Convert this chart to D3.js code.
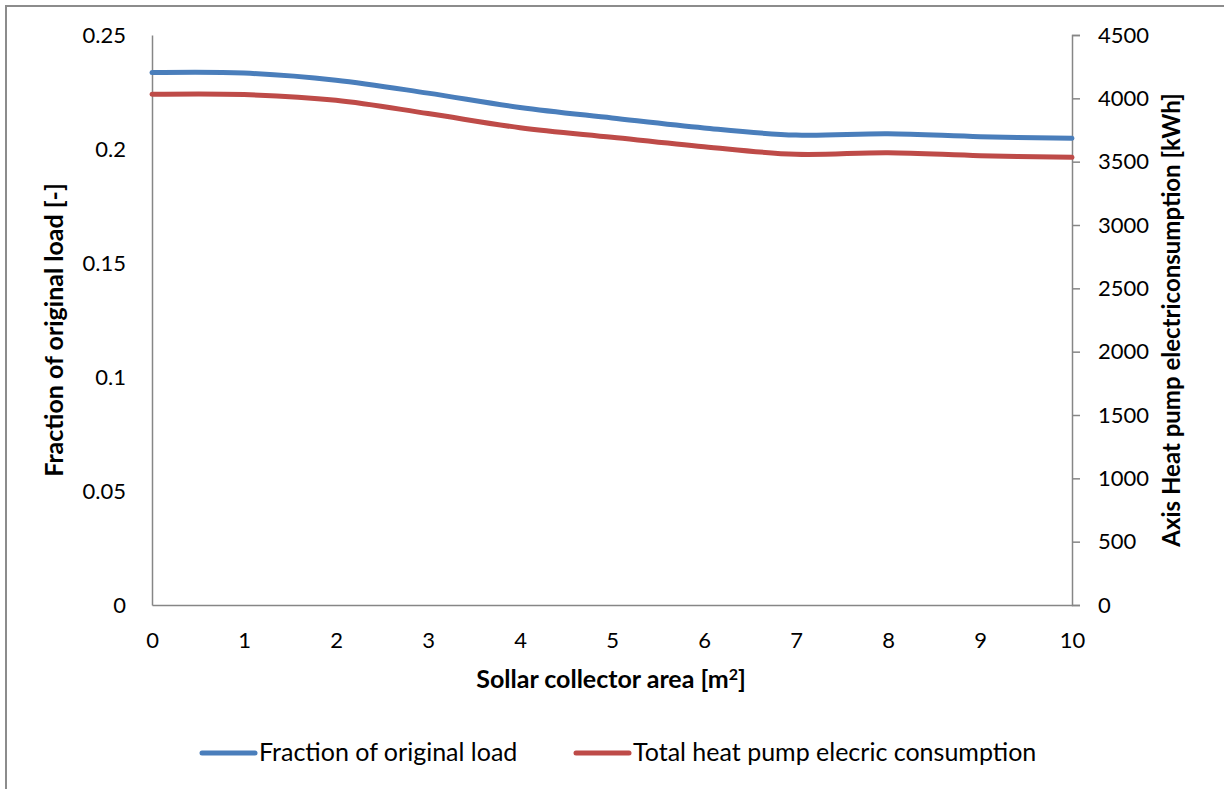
<!DOCTYPE html>
<html>
<head>
<meta charset="utf-8">
<script src="https://cdn.jsdelivr.net/npm/d3@7"></script>
<style>
  body { margin: 0; background: #fff; }
  svg { font-family: Lato, "Open Sans", sans-serif; }
</style>
</head>
<body>
<svg width="1224" height="789"></svg>
<script>
// collector area [m2]
var areas = [0, 1, 2, 3, 4, 5, 6, 7, 8, 9, 10];
// fraction of original load (left axis)
var fraction = [0.2335, 0.2333, 0.2302, 0.2245, 0.2182, 0.2136, 0.2092, 0.2061, 0.2067, 0.2054, 0.2047];
// heat pump electric consumption kWh (right axis)
var consumption = [4032, 4030, 3985, 3880, 3768, 3692, 3618, 3558, 3571, 3547, 3534];

var leftTicks = [0, 0.05, 0.1, 0.15, 0.2, 0.25];
var rightTicks = [0, 500, 1000, 1500, 2000, 2500, 3000, 3500, 4000, 4500];
var seriesNames = ["Fraction of original load", "Total heat pump elecric consumption"];
var colors = ["#4a7ebb", "#be4b48"];

var svg = d3.select("svg");
var axisColor = "#868686";

// chart frame (cropped at right and bottom)
svg.append("rect")
    .attr("x", 6).attr("y", 6)
    .attr("width", 1400).attr("height", 1000)
    .attr("fill", "none")
    .attr("stroke", "#8c8c8c")
    .attr("stroke-width", 2);

var x = d3.scaleLinear().domain([0, 10]).range([152, 1072]);
var yLeft = d3.scaleLinear().domain([0, 0.25]).range([605, 35]);
var yRight = d3.scaleLinear().domain([0, 4500]).range([605, 35]);

// left axis
var gl = svg.append("g")
    .attr("transform", "translate(152,0)")
    .call(d3.axisLeft(yLeft).tickValues(leftTicks).tickFormat(function (d) { return String(d); })
        .tickSize(0).tickPadding(26));

// right axis
var gr = svg.append("g")
    .attr("transform", "translate(1072,0)")
    .call(d3.axisRight(yRight).tickValues(rightTicks).tickFormat(function (d) { return String(d); })
        .tickSizeInner(8).tickSizeOuter(8).tickPadding(18));

// bottom axis
var gb = svg.append("g")
    .attr("transform", "translate(0,605)")
    .call(d3.axisBottom(x).tickValues(areas).tickFormat(function (d) { return String(d); })
        .tickSize(0).tickPadding(27));

[gl, gr, gb].forEach(function (g) {
    g.selectAll("path.domain").attr("stroke", axisColor).attr("stroke-width", 1.5);
    g.selectAll(".tick line").attr("stroke", axisColor).attr("stroke-width", 1.5);
    g.selectAll(".tick text").attr("fill", "#000").style("font-size", "22px").style("font-family", "Lato");
});

// lines
var lineL = d3.line()
    .x(function (d, i) { return x(areas[i]); })
    .y(function (d) { return yLeft(d); })
    .curve(d3.curveCardinal.tension(0));
var lineR = d3.line()
    .x(function (d, i) { return x(areas[i]); })
    .y(function (d) { return yRight(d); })
    .curve(d3.curveCardinal.tension(0));

svg.append("path")
    .datum(fraction)
    .attr("d", lineL)
    .attr("fill", "none")
    .attr("stroke", colors[0])
    .attr("stroke-width", 5)
    .attr("stroke-linecap", "round");

svg.append("path")
    .datum(consumption)
    .attr("d", lineR)
    .attr("fill", "none")
    .attr("stroke", colors[1])
    .attr("stroke-width", 5)
    .attr("stroke-linecap", "round");

// axis titles
var xt = svg.append("text")
    .attr("x", 611).attr("y", 688)
    .attr("text-anchor", "middle")
    .style("font-size", "25px").style("font-weight", "bold");
xt.append("tspan").text("Sollar collector area [m");
xt.append("tspan").attr("dy", -8).style("font-size", "16px").text("2");
xt.append("tspan").attr("dy", 8).text("]");

svg.append("text")
    .attr("transform", "translate(63,330) rotate(-90)")
    .attr("text-anchor", "middle")
    .style("font-size", "25px").style("font-weight", "bold")
    .text("Fraction of original load [-]");

svg.append("text")
    .attr("transform", "translate(1180,320) rotate(-90)")
    .attr("text-anchor", "middle")
    .style("font-size", "24px").style("font-weight", "bold")
    .text("Axis Heat pump electriconsumption [kWh]");

// legend
var legendX = [202, 576];
var legend = svg.selectAll("g.legend")
    .data(seriesNames)
    .enter()
    .append("g")
    .attr("class", "legend")
    .attr("transform", function (d, i) { return "translate(" + legendX[i] + ",753)"; });

legend.append("line")
    .attr("x1", 0).attr("x2", 53)
    .attr("stroke", function (d, i) { return colors[i]; })
    .attr("stroke-width", 5)
    .attr("stroke-linecap", "round");

legend.append("text")
    .attr("x", 57).attr("y", 8)
    .style("font-size", "25px")
    .text(function (d) { return d; });
</script>
</body>
</html>
